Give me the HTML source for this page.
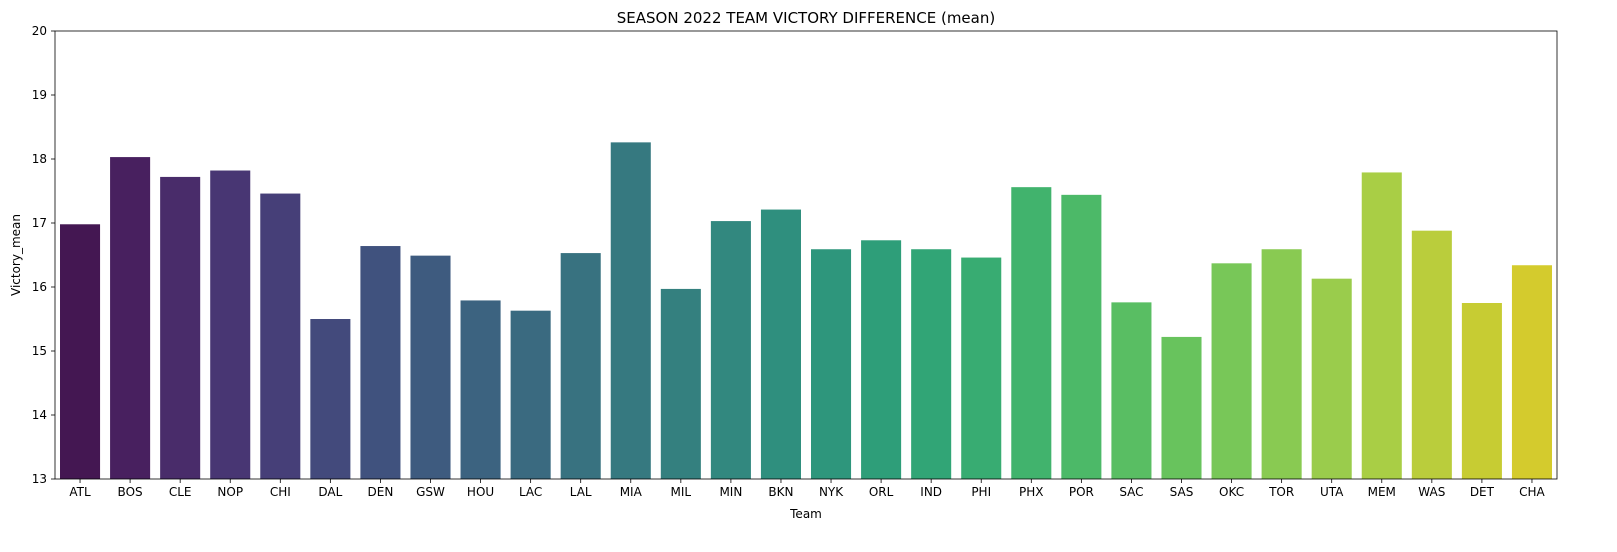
<!DOCTYPE html>
<html><head><meta charset="utf-8"><style>
body{margin:0;background:#fff;font-family:"Liberation Sans","DejaVu Sans",sans-serif;}
</style></head><body>
<svg id="chart" width="1617" height="547" xmlns="http://www.w3.org/2000/svg" font-family="DejaVu Sans, Liberation Sans, sans-serif">
<rect width="1617" height="547" fill="#fff"/>
<text x="806" y="23" text-anchor="middle" font-size="15">SEASON 2022 TEAM VICTORY DIFFERENCE (mean)</text>
<text x="806" y="518" text-anchor="middle" font-size="12">Team</text>
<text transform="translate(20,255) rotate(-90)" text-anchor="middle" font-size="12">Victory_mean</text>
<g id="bars"></g><g id="axes"></g>
</svg>
<script>
const categories=["ATL","BOS","CLE","NOP","CHI","DAL","DEN","GSW","HOU","LAC","LAL","MIA","MIL","MIN","BKN","NYK","ORL","IND","PHI","PHX","POR","SAC","SAS","OKC","TOR","UTA","MEM","WAS","DET","CHA"];
const values=[16.98,18.03,17.72,17.82,17.46,15.50,16.64,16.49,15.79,15.63,16.53,18.26,15.97,17.03,17.21,16.59,16.73,16.59,16.46,17.56,17.44,15.76,15.22,16.37,16.59,16.13,17.79,16.88,15.75,16.34];
const yTicks=[13,14,15,16,17,18,19,20];
const colors=["#441752","#48205f","#492c6a","#483673","#463f78","#434a7c","#40527e","#3e5b7f","#3c6380","#3a6a80","#387280","#367980","#34807f","#32887f","#2f8f7e","#2e967c","#2e9e79","#31a576","#38ac72","#41b36d","#4cb968","#59be63","#68c35d","#78c758","#89ca52","#9acc4c","#a9ce45","#bacd3c","#c7cc33","#d4cb2d"];
const L=55,R=1557,T=31,B=479,yMin=13,yMax=20;
const ns="http://www.w3.org/2000/svg";
const y=v=>B-(v-yMin)/(yMax-yMin)*(B-T);
const slot=(R-L)/categories.length;
const x=i=>L+slot*(i+0.5);
const bars=document.getElementById('bars'),axes=document.getElementById('axes');
function mk(t,a,p){const e=document.createElementNS(ns,t);for(const k in a)e.setAttribute(k,a[k]);p.appendChild(e);return e;}
categories.forEach((c,i)=>{
 const r=mk('rect',{x:x(i)-slot*0.4,y:y(values[i]),width:slot*0.8,height:B-y(values[i]),fill:colors[i%colors.length]},bars);
 
 
 mk('line',{x1:x(i),x2:x(i),y1:B,y2:B+4,stroke:'#000','stroke-width':0.8},axes);
 const t=mk('text',{x:x(i),y:B+17,'text-anchor':'middle','font-size':12},axes);
 t.textContent=c;
 
 
});
yTicks.forEach(v=>{
 mk('line',{x1:L-4,x2:L,y1:y(v),y2:y(v),stroke:'#000','stroke-width':0.8},axes);
 const t=mk('text',{x:L-8,y:y(v)+4,'text-anchor':'end','font-size':12},axes);
 t.textContent=v;
 
 
});
const f=mk('rect',{x:L,y:T,width:R-L,height:B-T,fill:'none',stroke:'#000','stroke-width':0.8},axes);


</script>
</body></html>
